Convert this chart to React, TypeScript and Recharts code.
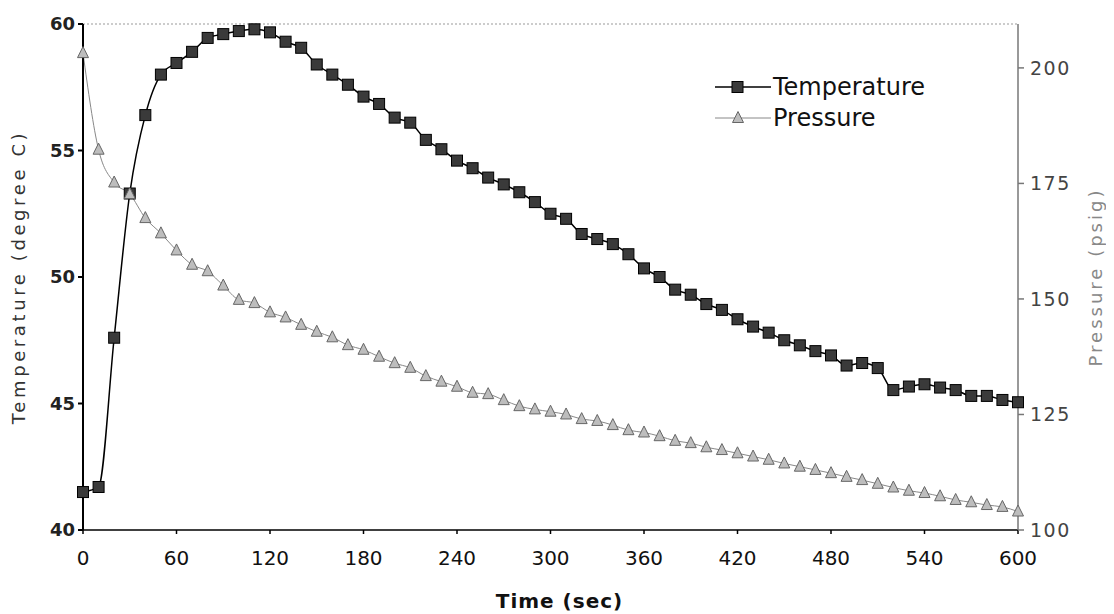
import React from 'react';
import { LineChart, Line, XAxis, YAxis, ReferenceLine } from 'recharts';

const times = [
  0, 10, 20, 30, 40, 50, 60, 70, 80, 90, 100, 110, 120, 130, 140, 150, 160, 170, 180, 190, 200,
  210, 220, 230, 240, 250, 260, 270, 280, 290, 300, 310, 320, 330, 340, 350, 360, 370, 380, 390, 400,
  410, 420, 430, 440, 450, 460, 470, 480, 490, 500, 510, 520, 530, 540, 550, 560, 570, 580, 590, 600,
];

const temperature = [
  41.5, 41.7, 47.6, 53.3, 56.4, 58.0, 58.46, 58.9, 59.45, 59.6, 59.72, 59.79, 59.67, 59.3, 59.06,
  58.4, 58.0, 57.6, 57.13, 56.84, 56.3, 56.1, 55.42, 55.05, 54.6, 54.3, 53.93, 53.66, 53.35, 52.96,
  52.5, 52.3, 51.7, 51.5, 51.3, 50.9, 50.34, 50.0, 49.5, 49.3, 48.93, 48.7, 48.33, 48.04, 47.8,
  47.5, 47.3, 47.07, 46.9, 46.5, 46.6, 46.4, 45.53, 45.67, 45.76, 45.63, 45.53, 45.3, 45.3, 45.14,
  45.05,
];

const pressure = [
  203.2, 182.3, 175.2, 172.7, 167.5, 164.2, 160.5, 157.4, 156.0, 152.9, 149.8, 149.1, 147.1, 146.0,
  144.4, 142.9, 141.7, 140.0, 139.0, 137.5, 136.1, 135.1, 133.3, 132.1, 131.0, 129.7, 129.4, 128.1,
  126.8, 126.1, 125.6, 125.0, 124.0, 123.6, 122.7, 121.6, 121.1, 120.3, 119.3, 118.8, 117.9, 117.3,
  116.6, 115.9, 115.2, 114.4, 113.7, 113.0, 112.3, 111.5, 110.8, 110.0, 109.2, 108.5, 108.0, 107.3,
  106.5, 106.0, 105.4, 105.0, 104.0,
];

const timeTicks = [0, 60, 120, 180, 240, 300, 360, 420, 480, 540, 600];
const tempTicks = [40, 45, 50, 55, 60];
const pressureTicks = [100, 125, 150, 175, 200];

const data = times.map((t, i) => ({ time: t, temperature: temperature[i], pressure: pressure[i] }));

const FONT = '"DejaVu Sans", Verdana, sans-serif';

function Square(props: any) {
  const { cx, cy, index } = props;
  if (cx == null || cy == null) return null;
  return <rect key={'sq' + index} x={cx - 5.5} y={cy - 5.5} width={11} height={11} fill="#3a3a3a" stroke="#000" strokeWidth={1} />;
}

function Triangle(props: any) {
  const { cx, cy, index } = props;
  if (cx == null || cy == null) return null;
  return (
    <path
      key={'tr' + index}
      d={`M${cx},${cy - 6.5} L${cx + 5.5},${cy + 4.5} L${cx - 5.5},${cy + 4.5} Z`}
      fill="#bdbdbd"
      stroke="#666"
      strokeWidth={1}
    />
  );
}

// legend drawn as an overlay so it doesn't eat plot space
function LegendBox() {
  return (
    <svg width={240} height={60} style={{ position: 'absolute', left: 707, top: 64, fontFamily: FONT }}>
      <line x1={0} y1={15} x2={56} y2={15} stroke="#000" strokeWidth={1.5} />
      <rect x={17} y={9.5} width={11} height={11} fill="#3a3a3a" stroke="#000" />
      <text x={58} y={15} dominantBaseline="central" fontSize={24} fill="#111">Temperature</text>
      <line x1={0} y1={46} x2={56} y2={46} stroke="#888" strokeWidth={1} />
      <path d="M23,39.5 L28.5,50.5 L17.5,50.5 Z" fill="#bdbdbd" stroke="#666" />
      <text x={58} y={46} dominantBaseline="central" fontSize={24} fill="#111">Pressure</text>
    </svg>
  );
}

export default function App() {
  return (
    <div style={{ position: 'relative', width: 1106, height: 606, fontFamily: FONT }}>
      <LineChart width={1106} height={606} data={data} margin={{ top: 16, right: 0, bottom: 0, left: 0 }}>
        <XAxis
          dataKey="time"
          type="number"
          domain={[0, 600]}
          ticks={timeTicks}
          height={84}
          stroke="#000"
          strokeWidth={1.5}
          tickSize={4}
          tickMargin={17}
          tick={{ fontSize: 20, fill: '#111', fontFamily: FONT }}
          label={(p: any) => {
            const vb = p.viewBox;
            return (
              <text x={vb.x + vb.width / 2 + 9} y={593} textAnchor="middle" dominantBaseline="central" fontSize={20} fontWeight="bold" fill="#111" fontFamily={FONT} letterSpacing={1}>
                Time (sec)
              </text>
            );
          }}
        />
        <YAxis
          yAxisId="left"
          domain={[40, 60]}
          ticks={tempTicks}
          width={75}
          stroke="#000"
          strokeWidth={2}
          tickSize={5}
          tickMargin={3}
          tick={{ fontSize: 18, fontWeight: 'bold', fill: '#222', fontFamily: FONT }}
          label={(p: any) => {
            const vb = p.viewBox;
            const cy = vb.y + vb.height / 2;
            return (
              <text x={10} y={cy} transform={`rotate(-90 10 ${cy})`} textAnchor="middle" dominantBaseline="central" fontSize={18} fill="#333" fontFamily={FONT} letterSpacing={3.6}>
                Temperature (degree C)
              </text>
            );
          }}
        />
        <YAxis
          yAxisId="right"
          orientation="right"
          domain={[100, 209.5]}
          ticks={pressureTicks}
          width={96}
          stroke="#777"
          strokeWidth={1.5}
          tickSize={6}
          tickMargin={6}
          tick={{ fontSize: 19, fill: '#444', fontFamily: FONT, letterSpacing: 1.5 }}
          label={(p: any) => {
            const vb = p.viewBox;
            const cy = vb.y + vb.height / 2;
            return (
              <text x={1087} y={cy} transform={`rotate(-90 1087 ${cy})`} textAnchor="middle" dominantBaseline="central" fontSize={18} fill="#888" fontFamily={FONT} letterSpacing={3}>
                Pressure (psig)
              </text>
            );
          }}
        />
        <ReferenceLine yAxisId="left" y={60} stroke="#999" strokeDasharray="2 2" />
        <Line
          yAxisId="left"
          type="monotone"
          dataKey="temperature"
          name="Temperature"
          stroke="#000"
          strokeWidth={1.5}
          dot={Square}
          activeDot={false}
          isAnimationActive={false}
        />
        <Line
          yAxisId="right"
          type="monotone"
          dataKey="pressure"
          name="Pressure"
          stroke="#888"
          strokeWidth={1}
          dot={Triangle}
          activeDot={false}
          isAnimationActive={false}
        />
      </LineChart>
      <LegendBox />
    </div>
  );
}
